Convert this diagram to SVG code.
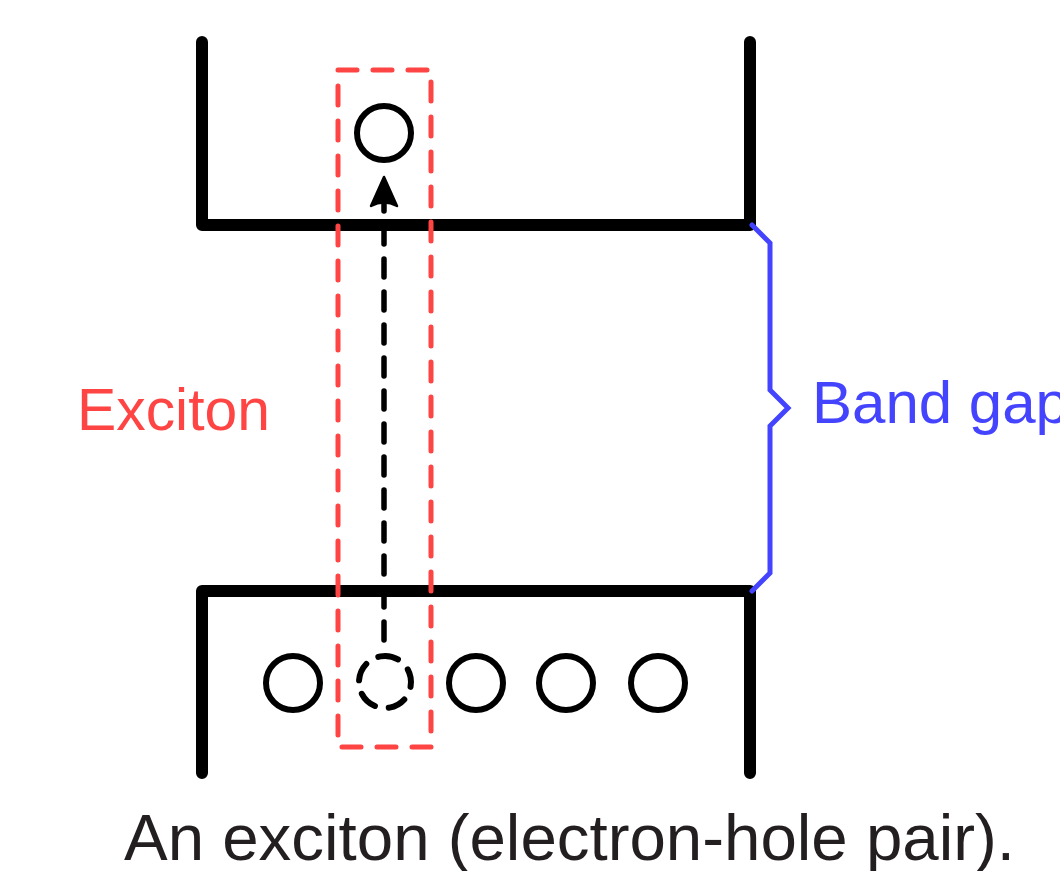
<svg xmlns="http://www.w3.org/2000/svg" width="1060" height="871" viewBox="0 0 1060 871">
<style>
.band{fill:none;stroke:#000;stroke-width:12;stroke-linecap:round;stroke-linejoin:round}
.ball{fill:none;stroke:#000;stroke-width:6}
.hole{fill:none;stroke:#000;stroke-width:6;stroke-dasharray:18 14;stroke-linecap:round}
.box{fill:none;stroke:#ff4444;stroke-width:5;stroke-dasharray:19 16;stroke-linecap:round}
.brace{fill:none;stroke:#4444ff;stroke-width:5;stroke-linecap:round;stroke-linejoin:miter}
.lbl{font-family:"Liberation Sans",Arial,sans-serif;font-size:60px}
</style>
<rect width="1060" height="871" fill="#fff"/>
<g id="conduction-band"><path class="band" d="M202,42 V225 H750 V42"/></g>
<g id="valence-band"><path class="band" d="M202,773 V591 H750 V773"/></g>
<g id="exciton-box"><rect class="box" x="338" y="70" width="93" height="677"/></g>
<g id="electron"><circle class="ball" cx="384" cy="133" r="27"/></g>
<g id="valence-electrons">
<circle class="ball" cx="293" cy="683" r="27"/>
<circle class="ball" cx="476" cy="683" r="27"/>
<circle class="ball" cx="566" cy="683" r="27"/>
<circle class="ball" cx="658" cy="683" r="27"/>
</g>
<g id="hole"><circle class="hole" cx="385" cy="682" r="26" transform="rotate(-100 385 682)"/></g>
<g id="connectors">
<line x1="384" y1="640" x2="384" y2="200" stroke="#000" stroke-width="5.5" stroke-dasharray="18 15" stroke-linecap="round"/>
<path d="M384,177 L397,206 Q384,199 371,206 Z" fill="#000" stroke="#000" stroke-width="2.5" stroke-linejoin="round"/>
</g>
<g id="band-gap-brace"><polyline class="brace" points="752,225 770,243 770,390 788,408 770,426 770,573 752,591"/></g>
<g id="label-exciton"><text class="lbl" x="77" y="430" fill="#ff4444" textLength="193" lengthAdjust="spacingAndGlyphs">Exciton</text></g>
<g id="label-bandgap"><text class="lbl" x="812" y="423" fill="#4444ff">Band gap</text></g>
<g id="caption"><text x="124" y="860" font-family="'Liberation Sans',Arial,sans-serif" font-size="65" fill="#231f20" textLength="891" lengthAdjust="spacingAndGlyphs">An exciton (electron-hole pair).</text></g>
</svg>
